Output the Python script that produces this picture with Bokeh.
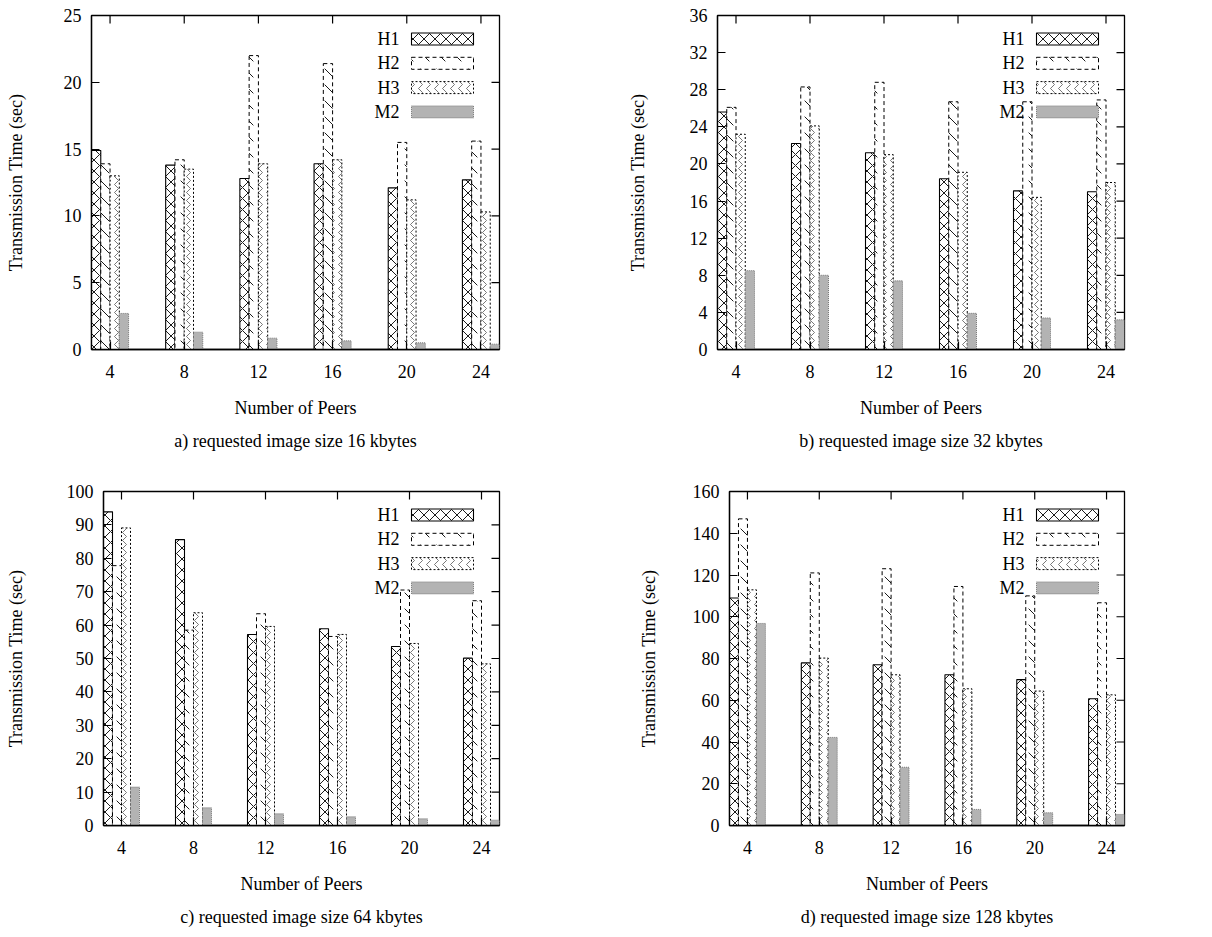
from bokeh.plotting import figure
from bokeh.models import (ColumnDataSource, Range1d, FixedTicker,
                          BoxAnnotation, Label, Title)
from bokeh.layouts import column, row
from bokeh.transform import dodge
from bokeh.embed import file_html
from bokeh.resources import INLINE

# ---------------- data ----------------
peers = [4, 8, 12, 16, 20, 24]
series = ["H1", "H2", "H3", "M2"]

a_H1 = [14.9, 13.8, 12.8, 13.9, 12.1, 12.7]
a_H2 = [13.9, 14.2, 22.0, 21.4, 15.5, 15.6]
a_H3 = [13.0, 13.5, 13.9, 14.2, 11.2, 10.3]
a_M2 = [2.7, 1.3, 0.85, 0.65, 0.5, 0.4]

b_H1 = [25.6, 22.2, 21.2, 18.4, 17.1, 17.0]
b_H2 = [26.1, 28.3, 28.8, 26.7, 26.7, 26.9]
b_H3 = [23.2, 24.1, 21.0, 19.1, 16.4, 18.0]
b_M2 = [8.5, 8.0, 7.4, 3.9, 3.4, 3.2]

c_H1 = [93.9, 85.6, 57.2, 58.9, 53.6, 50.1]
c_H2 = [77.8, 58.5, 63.4, 56.6, 70.5, 67.3]
c_H3 = [89.1, 63.7, 59.6, 57.2, 54.5, 48.4]
c_M2 = [11.5, 5.3, 3.5, 2.6, 2.0, 1.6]

d_H1 = [109.0, 77.9, 77.0, 72.2, 69.9, 60.7]
d_H2 = [146.9, 121.0, 123.0, 114.5, 110.0, 106.7]
d_H3 = [112.9, 80.2, 72.2, 65.5, 64.4, 62.6]
d_M2 = [96.8, 42.2, 27.9, 7.7, 6.1, 5.3]

a_yticks = [0, 5, 10, 15, 20, 25]
b_yticks = [0, 4, 8, 12, 16, 20, 24, 28, 32, 36]
c_yticks = [0, 10, 20, 30, 40, 50, 60, 70, 80, 90, 100]
d_yticks = [0, 20, 40, 60, 80, 100, 120, 140, 160]

captions = ["a) requested image size 16 kbytes",
            "b) requested image size 32 kbytes",
            "c) requested image size 64 kbytes",
            "d) requested image size 128 kbytes"]
x_title = "Number of Peers"
y_title = "Transmission Time (sec)"

# ---------------- styles ----------------
FONT = "Liberation Serif"
FS = "18px"
offsets = [-0.75, -0.25, 0.25, 0.75]
styles = {
    "H1": dict(fill_color="white", line_color="black", line_width=1.1,
               hatch_pattern="x", hatch_color="black", hatch_scale=11, hatch_weight=0.9),
    "H2": dict(fill_color="white", line_color="black", line_width=1.0, line_dash="4 3",
               hatch_pattern="`", hatch_color="black", hatch_scale=16, hatch_weight=0.9),
    "H3": dict(fill_color="white", line_color="black", line_width=1.0, line_dash="2 2",
               hatch_pattern=">", hatch_color="#555555", hatch_scale=8, hatch_weight=0.8),
    "M2": dict(fill_color="#b3b3b3", line_color="#777777", line_width=1.0, line_dash="1 1"),
}
TICK = 8


def style_axis(ax):
    ax.axis_line_color = "black"
    ax.axis_line_width = 1.3
    ax.major_tick_in = TICK
    ax.major_tick_out = 0
    ax.minor_tick_in = 0
    ax.minor_tick_out = 0
    ax.major_tick_line_color = "black"
    ax.major_tick_line_width = 1.2
    ax.major_label_text_font = FONT
    ax.major_label_text_color = "black"
    ax.major_label_text_font_size = FS
    ax.axis_label_text_font = FONT
    ax.axis_label_text_font_size = FS
    ax.axis_label_text_font_style = "normal"
    ax.axis_label_text_color = "black"


def make_panel(vals, yticks, caption, fw, fh, bl, br, bt, bb, ylab_standoff):
    ymax = yticks[-1]
    x0, x1 = 3, 25
    p = figure(x_range=Range1d(x0, x1), y_range=Range1d(0, ymax),
               frame_width=fw, frame_height=fh,
               min_border_left=bl, min_border_right=br,
               min_border_top=bt, min_border_bottom=bb,
               toolbar_location=None, output_backend="svg", title=None)
    p.xgrid.visible = False
    p.ygrid.visible = False
    p.outline_line_color = "black"
    p.outline_line_width = 1.3
    p.outline_line_alpha = 1.0
    p.background_fill_color = "white"
    p.border_fill_color = "white"

    src = ColumnDataSource(dict(peers=peers, **{s: v for s, v in zip(series, vals)}))
    for s, off in zip(series, offsets):
        p.vbar(x=dodge("peers", off, range=p.x_range), top=s, bottom=0, width=0.5,
               source=src, **styles[s])

    xa = p.xaxis[0]
    ya = p.yaxis[0]
    xa.ticker = FixedTicker(ticks=peers)
    ya.ticker = FixedTicker(ticks=yticks)
    style_axis(xa)
    style_axis(ya)
    xa.major_label_standoff = 15
    ya.major_label_standoff = 10
    xa.axis_label = x_title
    ya.axis_label = y_title
    xa.axis_label_standoff = 17
    ya.axis_label_standoff = ylab_standoff

    # mirrored inward ticks on the top and right borders (gnuplot style)
    dy = ymax * TICK / fh
    dx = (x1 - x0) * TICK / fw
    p.segment(x0=peers, x1=peers, y0=[ymax] * len(peers), y1=[ymax - dy] * len(peers),
              line_color="black", line_width=1.2)
    p.segment(x0=[x1] * len(yticks), x1=[x1 - dx] * len(yticks), y0=yticks, y1=yticks,
              line_color="black", line_width=1.2)

    cap = Title(text=caption, align="center", text_font=FONT, text_font_size=FS,
                text_font_style="normal", text_color="black", standoff=17)
    p.add_layout(cap, "below")

    # legend (gnuplot style: label on the left, sample on the right)
    def px2x(px):
        return x0 + px / fw * (x1 - x0)

    def px2y(py):
        return ymax - py / fh * ymax

    box_r = fw - 26
    box_l = box_r - 62
    for k, s in enumerate(series):
        cy = 23.5 + 24.3 * k
        box = BoxAnnotation(left=px2x(box_l), right=px2x(box_r),
                            top=px2y(cy - 6), bottom=px2y(cy + 6),
                            fill_alpha=1.0, line_alpha=1.0, **styles[s])
        p.add_layout(box)
        p.add_layout(Label(x=px2x(box_l - 12), y=px2y(cy), text=s,
                           text_align="right", text_baseline="middle",
                           text_font=FONT, text_font_size=FS, text_color="black"))
    return p


pa = make_panel([a_H1, a_H2, a_H3, a_M2], a_yticks, captions[0], 408, 334, 91, 109, 15, 127, 35)
pb = make_panel([b_H1, b_H2, b_H3, b_M2], b_yticks, captions[1], 407, 334, 109, 80, 15, 127, 39)
pc = make_panel([c_H1, c_H2, c_H3, c_M2], c_yticks, captions[2], 396, 334, 103, 109, 15, 104, 38)
pd = make_panel([d_H1, d_H2, d_H3, d_M2], d_yticks, captions[3], 395, 334, 121, 80, 15, 104, 31)

layout = column(row(pa, pb), row(pc, pd))
open("out.html", "w").write(file_html(layout, INLINE))
